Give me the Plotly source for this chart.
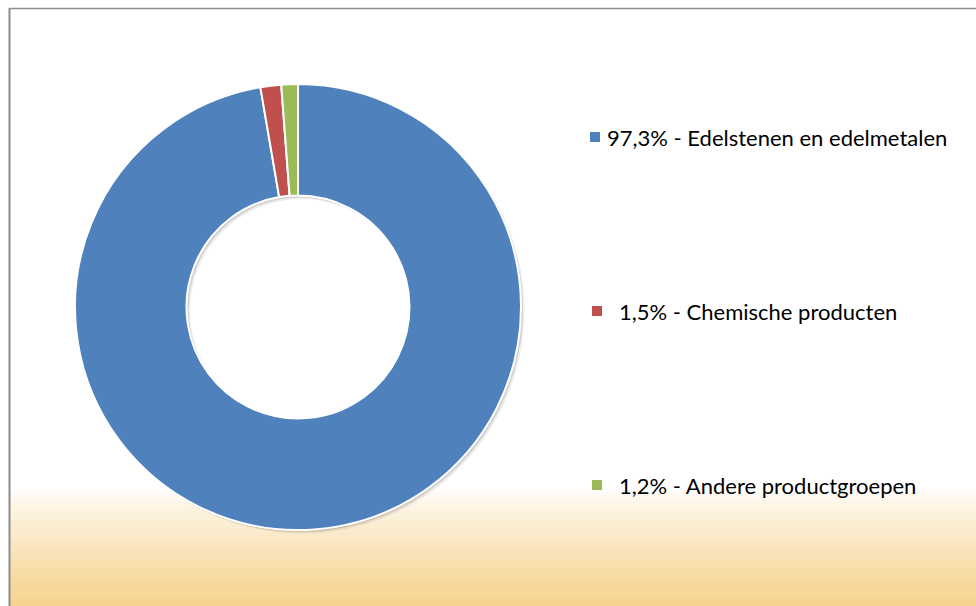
import plotly.graph_objects as go

W, H = 976, 606

# data
categories = ["Edelstenen en edelmetalen", "Chemische producten", "Andere productgroepen"]
shares = [97.3, 1.5, 1.2]
share_labels = ["97,3%", "1,5%", "1,2%"]
colors = ["#4f81bd", "#c0504d", "#9bbb59"]


def px_x(x):
    return x / W


def px_y(y):
    return 1 - y / H


# donut box in pixels: left, right, top, bottom
bx0, bx1, by0, by1 = 75, 521, 84, 530

fig = go.Figure()

# soft drop shadow behind the donut
for off, alpha in [(3.5, 0.07), (2.0, 0.12)]:
    fig.add_trace(
        go.Pie(
            values=[sum(shares)],
            sort=False,
            hole=0.5,
            textinfo="none",
            hoverinfo="skip",
            marker=dict(colors=["rgba(0,0,0,%.2f)" % alpha], line=dict(width=0)),
            domain=dict(x=[px_x(bx0 + off), px_x(bx1 + off)],
                        y=[px_y(by1 + off), px_y(by0 + off)]),
            showlegend=False,
        )
    )

fig.add_trace(
    go.Pie(
        labels=categories,
        values=shares,
        sort=False,
        direction="clockwise",
        rotation=0,
        hole=0.5,
        textinfo="none",
        hoverinfo="label+percent",
        marker=dict(colors=colors, line=dict(color="white", width=2)),
        domain=dict(x=[px_x(bx0), px_x(bx1)], y=[px_y(by1), px_y(by0)]),
        showlegend=False,
    )
)

shapes = []

# bottom gradient band (white -> sand)
top_c = (255, 255, 255)
bot_c = (246, 210, 140)
y0, y1 = 488, H
n = 60
for i in range(n):
    t = (i + 0.5) / n
    t = t ** 0.8
    c = tuple(round(a + (b - a) * t) for a, b in zip(top_c, bot_c))
    ya = y0 + (y1 - y0) * i / n
    yb = y0 + (y1 - y0) * (i + 1) / n + 0.6
    shapes.append(dict(
        type="rect", xref="paper", yref="paper", layer="below",
        x0=px_x(10), x1=1, y0=px_y(yb), y1=px_y(ya),
        fillcolor="rgb(%d,%d,%d)" % c, line=dict(width=0),
    ))

# frame lines
shapes.append(dict(type="line", xref="paper", yref="paper",
                   x0=px_x(9), x1=1, y0=px_y(8.5), y1=px_y(8.5),
                   line=dict(color="#8c8c8c", width=1.5)))
shapes.append(dict(type="line", xref="paper", yref="paper",
                   x0=px_x(9.5), x1=px_x(9.5), y0=px_y(8), y1=0,
                   line=dict(color="#8c8c8c", width=2)))

# custom legend, spread over the right side
legend_y = [137, 311, 485]
annotations = []
for i, (cat, lab, col) in enumerate(zip(categories, share_labels, colors)):
    yy = legend_y[i]
    sq_x = 590 if i == 0 else 592
    shapes.append(dict(
        type="rect", xref="paper", yref="paper",
        x0=px_x(sq_x), x1=px_x(sq_x + 10),
        y0=px_y(yy + 5), y1=px_y(yy - 5),
        fillcolor=col, line=dict(width=0),
    ))
    tx = 605 if i == 0 else 617
    annotations.append(dict(
        xref="paper", yref="paper", x=px_x(tx), y=px_y(yy),
        xanchor="left", yanchor="middle", showarrow=False,
        text=f"{lab} - {cat}",
        font=dict(family="Lato, Carlito, Calibri, sans-serif", size=22, color="#000"),
    ))

fig.update_layout(
    width=W,
    height=H,
    margin=dict(l=0, r=0, t=0, b=0),
    paper_bgcolor="white",
    plot_bgcolor="white",
    shapes=shapes,
    annotations=annotations,
)

fig.write_html(
    "out.html",
    config={"displayModeBar": False},
    post_script="document.body.style.margin='0';document.body.style.overflow='hidden';",
)
